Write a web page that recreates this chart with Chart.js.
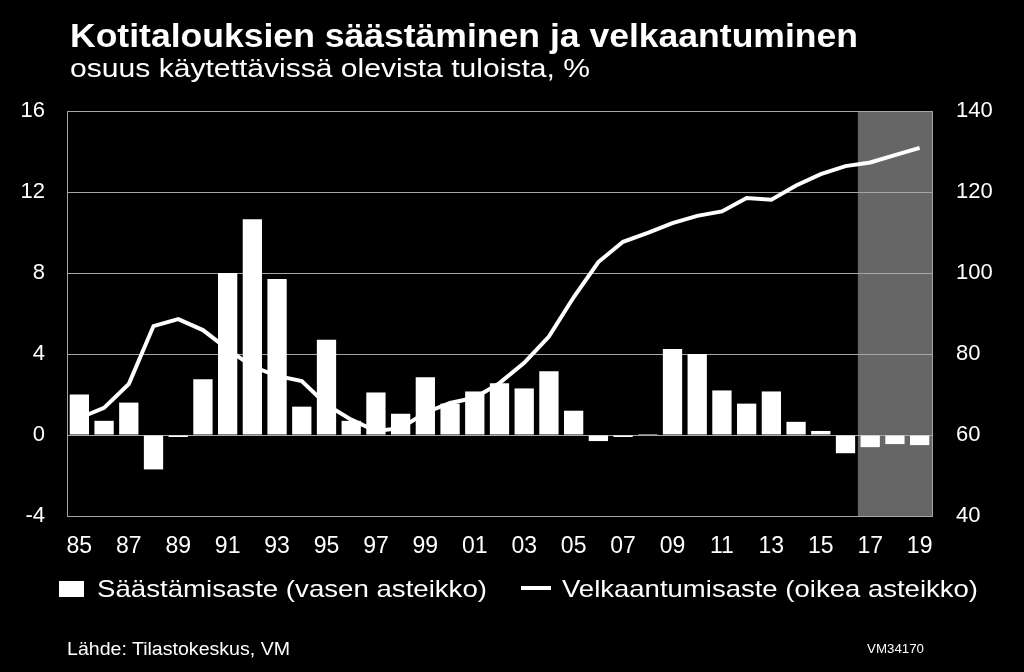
<!DOCTYPE html>
<html><head><meta charset="utf-8">
<script src="https://cdn.jsdelivr.net/npm/chart.js@4/dist/chart.umd.min.js"></script>
<style>
html,body{margin:0;padding:0;background:#000;}
#wrap{position:relative;width:1024px;height:672px;overflow:hidden;background:#000;font-family:"Liberation Sans",Arial,sans-serif;color:#fff;}
#c{position:absolute;left:0;top:0;width:1024px;height:672px;}
.t{position:absolute;white-space:nowrap;transform-origin:0 0;display:inline-block;}
.box{position:absolute;background:#fff;}
</style></head>
<body><div id="wrap">
<canvas id="c" width="1024" height="672"></canvas>
<div class="t" data-w="788" style="left:70px;top:18px;font-size:34px;line-height:34px;font-weight:bold">Kotitalouksien säästäminen ja velkaantuminen</div>
<div class="t" data-w="520" style="left:70px;top:55px;font-size:26px;line-height:26px">osuus käytettävissä olevista tuloista, %</div>
<div class="box" style="left:59px;top:581px;width:25px;height:16px"></div>
<div class="t" data-w="390" style="left:97px;top:577px;font-size:24px;line-height:24px">Säästämisaste (vasen asteikko)</div>
<div class="box" style="left:521px;top:586px;width:30px;height:4px"></div>
<div class="t" data-w="416" style="left:562px;top:577px;font-size:24px;line-height:24px">Velkaantumisaste (oikea asteikko)</div>
<div class="t" data-w="223" style="left:67px;top:640px;font-size:18px;line-height:18px">Lähde: Tilastokeskus, VM</div>
<div class="t" data-w="57" style="left:867px;top:643px;font-size:12px;line-height:12px">VM34170</div>
</div>
<script>
const categories = ['85','86','87','88','89','90','91','92','93','94','95','96','97','98','99','00','01','02','03','04','05','06','07','08','09','10','11','12','13','14','15','16','17','18','19'];
const savingsRate = [2.0,0.7,1.6,-1.7,-0.1,2.75,8.0,10.65,7.7,1.4,4.7,0.7,2.1,1.05,2.85,1.55,2.15,2.55,2.3,3.15,1.2,-0.3,-0.1,0.05,4.25,4.0,2.2,1.55,2.15,0.65,0.2,-0.9,-0.6,-0.45,-0.5];
const debtRatio = [64.2,66.7,72.6,86.9,88.6,85.9,81.2,76.9,74.6,73.3,67.5,63.8,61.0,61.7,65.5,67.9,69.2,72.8,77.8,84.3,94.0,102.7,107.7,109.9,112.3,114.1,115.2,118.5,118.1,121.6,124.4,126.4,127.3,129.1,130.9];
const leftTicks = {min:-4, max:16, step:4};
const rightTicks = {min:40, max:140, step:20};
const forecastStart = '17';

const shadePlugin = {
  id:'shade',
  beforeDraw(chart){
    const {ctx, chartArea:a, scales:{x}} = chart;
    const i = categories.indexOf(forecastStart);
    const x0 = (x.getPixelForValue(i-1) + x.getPixelForValue(i)) / 2;
    ctx.save();
    ctx.fillStyle = '#666666';
    ctx.fillRect(x0, a.top, a.right - x0, a.bottom - a.top);
    ctx.restore();
  }
};

const gridCol = '#a6a6a6';
new Chart(document.getElementById('c'), {
  type:'bar',
  data:{
    labels: categories,
    datasets:[
      {type:'line', label:'Velkaantumisaste (oikea asteikko)', data: debtRatio, yAxisID:'y1', borderColor:'#fff', borderWidth:4, pointRadius:0, tension:0, fill:false, order:0},
      {type:'bar', label:'Säästämisaste (vasen asteikko)', data: savingsRate, yAxisID:'y', backgroundColor:'#fff', borderWidth:0, categoryPercentage:1, barPercentage:0.78, order:1}
    ]
  },
  options:{
    responsive:false, animation:false, devicePixelRatio:1,
    layout:{padding:{top:111, left:0, right:0, bottom:0}},
    plugins:{legend:{display:false}, tooltip:{enabled:false}, title:{display:false}},
    font:{family:'"Liberation Sans", Arial, sans-serif'},
    scales:{
      x:{
        grid:{display:false, drawTicks:false}, border:{display:false},
        ticks:{autoSkip:false, maxRotation:0, minRotation:0, color:'#fff', padding:17, font:{size:23, family:'"Liberation Sans", Arial, sans-serif'},
          callback:(v,i)=> i%2===0 ? categories[i] : ''},
        afterFit(s){ s.height = 156; }
      },
      y:{
        position:'left', min:leftTicks.min, max:leftTicks.max,
        ticks:{stepSize:leftTicks.step, color:'#fff', padding:22, font:{size:22, family:'"Liberation Sans", Arial, sans-serif'}},
        grid:{color:gridCol, lineWidth:1, drawTicks:false},
        border:{display:true, color:gridCol, width:1},
        afterFit(s){ s.width = 67; }
      },
      y1:{
        position:'right', min:rightTicks.min, max:rightTicks.max,
        ticks:{stepSize:rightTicks.step, color:'#fff', padding:24, font:{size:22, family:'"Liberation Sans", Arial, sans-serif'}},
        grid:{display:false, drawTicks:false},
        border:{display:true, color:gridCol, width:1},
        afterFit(s){ s.width = 92; }
      }
    }
  },
  plugins:[shadePlugin]
});

function fit(){
  document.querySelectorAll('.t[data-w]').forEach(el=>{
    el.style.transform='none';
    const w = el.getBoundingClientRect().width;
    const target = parseFloat(el.dataset.w);
    if (w>0) el.style.transform = 'scaleX(' + (target/w) + ')';
  });
}
fit();
if (document.fonts && document.fonts.ready) document.fonts.ready.then(fit);
</script>
</body></html>
